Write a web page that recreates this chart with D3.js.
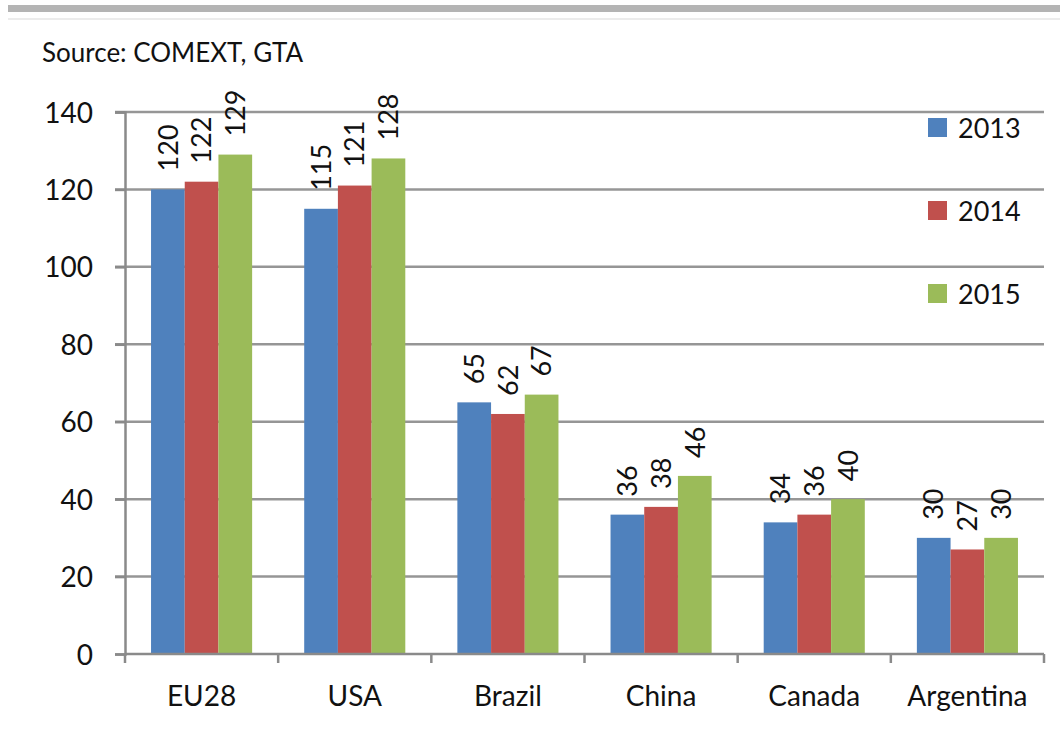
<!DOCTYPE html>
<html>
<head>
<meta charset="utf-8">
<script src="https://cdn.jsdelivr.net/npm/d3@7"></script>
<style>
  body { margin: 0; background: #fff; }
  svg text { font-family: Lato, "Open Sans", sans-serif; fill: #111; }
</style>
</head>
<body>
<div id="chart"></div>
<script>
// chart data
const categories = ["EU28", "USA", "Brazil", "China", "Canada", "Argentina"];
const years = ["2013", "2014", "2015"];
const values2013 = [120, 115, 65, 36, 34, 30];
const values2014 = [122, 121, 62, 38, 36, 27];
const values2015 = [129, 128, 67, 46, 40, 30];
const yTicks = [0, 20, 40, 60, 80, 100, 120, 140];
const colors = ["#4f81bd", "#c0504d", "#9bbb59"];

const seriesValues = [values2013, values2014, values2015];

const width = 1060;
const height = 730;
const plot = { left: 125, right: 1044, top: 112, bottom: 654 };

const svg = d3.select("#chart")
    .append("svg")
    .attr("width", width)
    .attr("height", height);

// top frame lines
svg.append("rect")
    .attr("x", 8).attr("y", 5)
    .attr("width", width - 8).attr("height", 7)
    .attr("fill", "#b4b4b4");
svg.append("rect")
    .attr("x", 8).attr("y", 18)
    .attr("width", width - 8).attr("height", 2)
    .attr("fill", "#ececec");

svg.append("text")
    .attr("x", 42).attr("y", 62)
    .style("font-size", "26px")
    .text("Source: COMEXT, GTA");

const xScale = d3.scaleBand()
    .domain(categories)
    .range([plot.left, plot.right])
    .paddingInner(0.34)
    .paddingOuter(0.17);

const xInner = d3.scaleBand()
    .domain(years)
    .range([0, xScale.bandwidth()]);

const yScale = d3.scaleLinear()
    .domain([0, 140])
    .range([plot.bottom, plot.top]);

// gridlines
svg.append("g")
    .selectAll("line")
    .data(yTicks.filter(d => d > 0))
    .join("line")
    .attr("x1", plot.left - 10)
    .attr("x2", plot.right)
    .attr("y1", d => yScale(d))
    .attr("y2", d => yScale(d))
    .attr("stroke", "#969696")
    .attr("stroke-width", 2.5);

// y axis
const yAxis = svg.append("g")
    .attr("transform", `translate(${plot.left},0)`)
    .call(d3.axisLeft(yScale).tickValues(yTicks).tickSize(10).tickPadding(22));
yAxis.select(".domain").attr("stroke", "#8a8a8a").attr("stroke-width", 2.5);
yAxis.selectAll(".tick line").attr("stroke", "#8a8a8a").attr("stroke-width", 2.5);
yAxis.selectAll(".tick text")
    .style("font-size", "28px")
    .attr("dy", "0.36em");

// bars
const groups = svg.append("g")
    .selectAll("g")
    .data(categories)
    .join("g")
    .attr("transform", d => `translate(${xScale(d)},0)`);

groups.selectAll("rect")
    .data((c, i) => years.map((y, s) => ({ year: y, s: s, value: seriesValues[s][i] })))
    .join("rect")
    .attr("x", d => xInner(d.year))
    .attr("width", xInner.bandwidth())
    .attr("y", d => yScale(d.value))
    .attr("height", d => yScale(0) - yScale(d.value))
    .attr("fill", d => colors[d.s]);

// rotated value labels
groups.selectAll("text")
    .data((c, i) => years.map((y, s) => ({ year: y, s: s, value: seriesValues[s][i] })))
    .join("text")
    .attr("transform", d => `translate(${xInner(d.year) + xInner.bandwidth() / 2},${yScale(d.value) - 18}) rotate(-90)`)
    .attr("dy", "0.36em")
    .style("font-size", "27px")
    .text(d => d.value);

// x axis
svg.append("line")
    .attr("x1", plot.left).attr("x2", plot.right)
    .attr("y1", plot.bottom).attr("y2", plot.bottom)
    .attr("stroke", "#8a8a8a").attr("stroke-width", 2.5);

svg.append("g")
    .selectAll("line")
    .data(d3.range(categories.length + 1))
    .join("line")
    .attr("x1", i => plot.left + i * xScale.step())
    .attr("x2", i => plot.left + i * xScale.step())
    .attr("y1", plot.bottom)
    .attr("y2", plot.bottom + 9)
    .attr("stroke", "#8a8a8a").attr("stroke-width", 2.5);

svg.append("g")
    .selectAll("text")
    .data(categories)
    .join("text")
    .attr("x", d => xScale(d) + xScale.bandwidth() / 2)
    .attr("y", 706)
    .attr("text-anchor", "middle")
    .style("font-size", "28px")
    .text(d => d);

// legend
const legend = svg.append("g")
    .selectAll("g")
    .data(years)
    .join("g")
    .attr("transform", (d, i) => `translate(928,${128 + i * 83})`);

legend.append("rect")
    .attr("x", 0).attr("y", -10)
    .attr("width", 19).attr("height", 19)
    .attr("fill", (d, i) => colors[i]);

legend.append("text")
    .attr("x", 30).attr("y", 0)
    .attr("dy", "0.36em")
    .style("font-size", "27px")
    .text(d => d);
</script>
</body>
</html>
